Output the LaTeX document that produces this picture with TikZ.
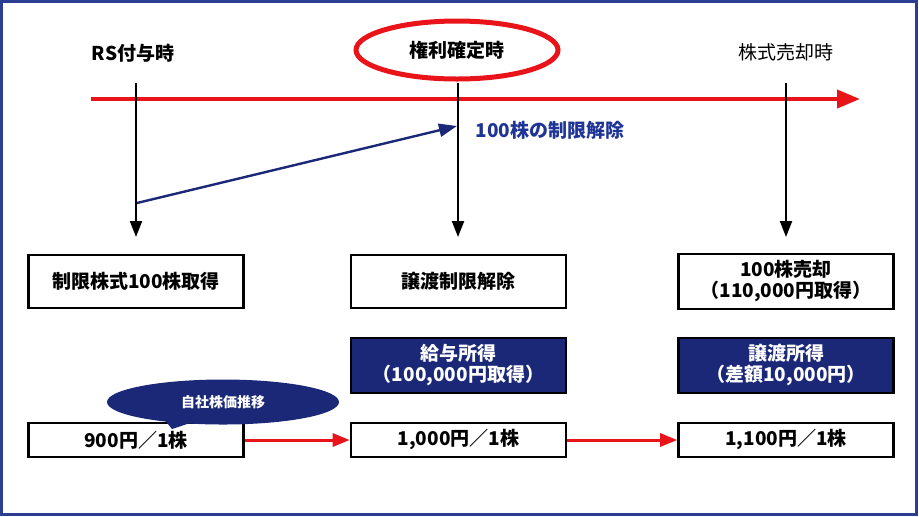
\documentclass[tikz,border=0pt]{standalone}
\usepackage{fontspec}
\setmainfont{Noto Sans CJK JP}
\usetikzlibrary{arrows.meta,shapes.geometric}
\definecolor{framecol}{RGB}{43,62,145}
\definecolor{navy}{RGB}{27,40,120}
\definecolor{labelblue}{RGB}{30,52,150}
\definecolor{tlred}{RGB}{232,20,26}
\begin{document}
\begin{tikzpicture}[x=0.5pt,y=-0.5pt,
    txt/.style={font=\fontsize{9.5}{10.5}\selectfont\bfseries},
    box/.style={draw=black,line width=1.3pt,fill=white,minimum width=107.5pt,minimum height=26.5pt,align=center,txt},
    navybox/.style={box,fill=navy,text=white,minimum height=27.5pt},
    pricebox/.style={box,minimum height=17pt},
    down/.style={-{Triangle[length=8pt,width=6pt]},line width=1pt,black},
    redarrow/.style={-{Triangle[length=8.5pt,width=6.5pt]},line width=1.5pt,tlred}]
  \useasboundingbox (0,0) rectangle (919,516);
  \draw[framecol,line width=1.5pt] (1.5,1.5) rectangle (916,514.5);
  % timeline
  \coordinate (tl0) at (91,99);
  \coordinate (tl1) at (860,99);
  \draw[-{Triangle[length=11.5pt,width=9pt]},line width=2pt,tlred] (tl0) -- (tl1);
  % headings
  \node[txt] (rs) at (133,53) {RS付与時};
  \node[txt] (kenri) at (457,50) {権利確定時};
  \draw[tlred,line width=2.5pt] (kenri) ellipse [x radius=101,y radius=29];
  \node[font=\fontsize{9.5}{10.5}\selectfont] (baikyaku) at (786,52) {株式売却時};
  % vertical arrows
  \coordinate (v1a) at (136,83);  \coordinate (v1b) at (136,237);
  \coordinate (v2a) at (458,83);  \coordinate (v2b) at (458,237);
  \coordinate (v3a) at (786,83);  \coordinate (v3b) at (786,237);
  \draw[down] (v1a) -- (v1b);
  \draw[down] (v2a) -- (v2b);
  \draw[down] (v3a) -- (v3b);
  % release of restriction
  \coordinate (b0) at (137,203);
  \coordinate (b1) at (457,126);
  \draw[-{Triangle[length=9pt,width=6.5pt]},line width=1.2pt,navy] (b0) -- (b1);
  \node[txt,text=labelblue] (kaijo) at (550,130) {100株の制限解除};
  % boxes
  \node[box] (shutoku) at (136,281.5) {制限株式100株取得};
  \node[box] (jouto) at (458.5,281.5) {譲渡制限解除};
  \node[box] (uri) at (786,281.5) {100株売却\\（110,000円取得）};
  \node[navybox] (kyuyo) at (458.5,365.5) {給与所得\\（100,000円取得）};
  \node[navybox] (joutoshotoku) at (786,365.5) {譲渡所得\\（差額10,000円）};
  \node[pricebox] (p1) at (136,440) {900円／1株};
  \node[pricebox] (p2) at (458.5,440) {1,000円／1株};
  \node[pricebox] (p3) at (786,440) {1,100円／1株};
  \draw[redarrow] (p1.east) -- (p2.west);
  \draw[redarrow] (p2.east) -- (p3.west);
  % share price bubble
  \fill[navy] (160,414) -- (172,429) -- (202,419) -- cycle;
  \node[ellipse,fill=navy,minimum width=116pt,minimum height=22.5pt,inner sep=0pt,
    text=white,font=\fontsize{7}{8}\selectfont\bfseries] (suii) at (223,402) {自社株価推移};
\end{tikzpicture}
\end{document}
